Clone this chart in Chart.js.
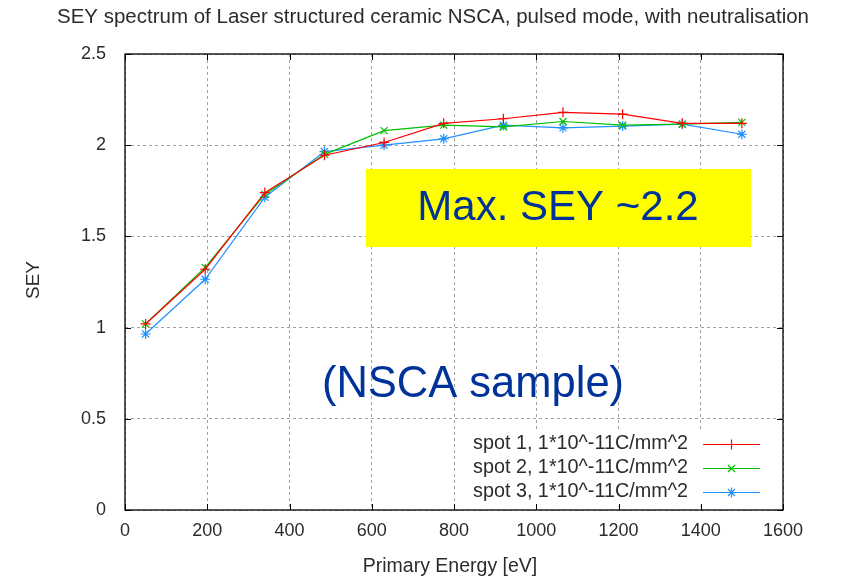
<!DOCTYPE html>
<html><head><meta charset="utf-8">
<script src="https://cdn.jsdelivr.net/npm/chart.js@4/dist/chart.umd.min.js"></script>
<style>html,body{margin:0;padding:0;background:#fff}#wrap{width:841px;height:580px;position:relative}</style>
</head><body><div id="wrap"><canvas id="c" width="841" height="580"></canvas></div>
<script>
const energies = [50, 195, 340, 485, 630, 775, 920, 1065, 1210, 1355, 1500];
const spot1 = [1.02, 1.32, 1.74, 1.945, 2.015, 2.12, 2.145, 2.18, 2.17, 2.12, 2.12];
const spot2 = [1.02, 1.33, 1.73, 1.95, 2.08, 2.11, 2.10, 2.13, 2.11, 2.115, 2.125];
const spot3 = [0.965, 1.265, 1.715, 1.965, 2.0, 2.035, 2.11, 2.095, 2.105, 2.115, 2.06];
const seriesLabels = ["spot 1, 1*10^-11C/mm^2", "spot 2, 1*10^-11C/mm^2", "spot 3, 1*10^-11C/mm^2"];
const xTicks = [0, 200, 400, 600, 800, 1000, 1200, 1400, 1600];
const yTicks = [0, 0.5, 1, 1.5, 2, 2.5];
const chartTitle = "SEY spectrum of Laser structured ceramic NSCA, pulsed mode, with neutralisation";
const xTitle = "Primary Energy [eV]";
const yTitle = "SEY";
const noteMax = "Max. SEY ~2.2";
const noteSample = "(NSCA sample)";

const colors = ['#ff0000', '#00c000', '#2090ff'];
const styles = ['cross', 'crossRot', 'star'];
const FONT = "'Liberation Sans', Arial, sans-serif";
const TXT = '#2b2b2b';

const seriesValues = [spot1, spot2, spot3];
const datasets = seriesValues.map((vals, k) => ({
  label: seriesLabels[k],
  data: energies.map((e, i) => ({x: e, y: vals[i]})),
  borderColor: colors[k],
  backgroundColor: colors[k],
  borderWidth: 1.2,
  pointStyle: styles[k],
  pointRadius: 5,
  pointBorderWidth: 1.2,
  pointBorderColor: colors[k],
  tension: 0,
  fill: false
}));

function marker(ctx, style, x, y, r) {
  ctx.beginPath();
  if (style === 'cross' || style === 'star') {
    ctx.moveTo(x - r, y); ctx.lineTo(x + r, y);
    ctx.moveTo(x, y - r); ctx.lineTo(x, y + r);
  }
  if (style === 'crossRot' || style === 'star') {
    const d = r * Math.SQRT1_2;
    ctx.moveTo(x - d, y - d); ctx.lineTo(x + d, y + d);
    ctx.moveTo(x - d, y + d); ctx.lineTo(x + d, y - d);
  }
  ctx.stroke();
}

const decor = {
  id: 'decor',
  beforeDatasetsDraw(chart) {
    const ctx = chart.ctx;
    ctx.save();
    ctx.fillStyle = '#ffff00';
    ctx.fillRect(366, 169, 385, 78);
    ctx.fillStyle = '#ffffff';
    ctx.fillRect(462, 432, 312, 74);
    ctx.restore();
  },
  afterDraw(chart) {
    const ctx = chart.ctx, a = chart.chartArea, xs = chart.scales.x, ys = chart.scales.y;
    ctx.save();
    ctx.strokeStyle = '#000';
    ctx.lineWidth = 1.3;
    ctx.strokeRect(a.left, a.top, a.right - a.left, a.bottom - a.top);
    ctx.lineWidth = 1;
    ctx.beginPath();
    xTicks.forEach(v => {
      const px = Math.round(xs.getPixelForValue(v)) + 0.5;
      ctx.moveTo(px, a.bottom); ctx.lineTo(px, a.bottom - 6);
      ctx.moveTo(px, a.top); ctx.lineTo(px, a.top + 6);
    });
    yTicks.forEach(v => {
      const py = Math.round(ys.getPixelForValue(v)) + 0.5;
      ctx.moveTo(a.left, py); ctx.lineTo(a.left + 6, py);
      ctx.moveTo(a.right, py); ctx.lineTo(a.right - 6, py);
    });
    ctx.stroke();

    ctx.fillStyle = TXT;
    ctx.textAlign = 'center';
    ctx.textBaseline = 'middle';
    ctx.font = '20.5px ' + FONT;
    ctx.fillText(chartTitle, 433, 17);
    ctx.font = '19.5px ' + FONT;
    ctx.fillText(xTitle, 450, 567);
    ctx.save();
    ctx.translate(34, 280);
    ctx.rotate(-Math.PI / 2);
    ctx.font = '19px ' + FONT;
    ctx.fillText(yTitle, 0, 0);
    ctx.restore();

    ctx.fillStyle = '#003399';
    ctx.font = '42px ' + FONT;
    ctx.fillText(noteMax, 558, 208);
    ctx.font = '43.5px ' + FONT;
    ctx.fillText(noteSample, 473, 385);

    ctx.font = '19.8px ' + FONT;
    ctx.textAlign = 'right';
    const rows = [444, 468, 492];
    rows.forEach((ry, k) => {
      ctx.fillStyle = TXT;
      ctx.fillText(seriesLabels[k], 688, ry);
      ctx.strokeStyle = colors[k];
      ctx.lineWidth = 1.2;
      ctx.beginPath();
      ctx.moveTo(703, ry + 0.5); ctx.lineTo(760, ry + 0.5);
      ctx.stroke();
      marker(ctx, styles[k], 731.5, ry + 0.5, 5);
    });
    ctx.restore();
  }
};

new Chart(document.getElementById('c'), {
  type: 'line',
  data: {datasets},
  options: {
    responsive: false,
    animation: false,
    layout: {padding: {top: 54, right: 58, left: 0, bottom: 0}},
    plugins: {legend: {display: false}, title: {display: false}, tooltip: {enabled: false}},
    scales: {
      x: {
        type: 'linear', min: 0, max: 1600,
        afterBuildTicks: s => { s.ticks = xTicks.map(v => ({value: v})); },
        afterFit: s => { s.height = 70; },
        ticks: {color: TXT, font: {family: FONT, size: 18}, padding: 10, maxRotation: 0, autoSkip: false, callback: v => String(v)},
        grid: {color: '#a0a0a0', lineWidth: 1, drawTicks: false},
        border: {display: false, dash: [3, 3]}
      },
      y: {
        type: 'linear', min: 0, max: 2.5,
        afterBuildTicks: s => { s.ticks = yTicks.map(v => ({value: v})); },
        afterFit: s => { s.width = 125; },
        ticks: {color: TXT, font: {family: FONT, size: 18}, padding: 19, callback: v => String(v)},
        grid: {color: '#a0a0a0', lineWidth: 1, drawTicks: false},
        border: {display: false, dash: [3, 3]}
      }
    }
  },
  plugins: [decor]
});
</script>
</body></html>
